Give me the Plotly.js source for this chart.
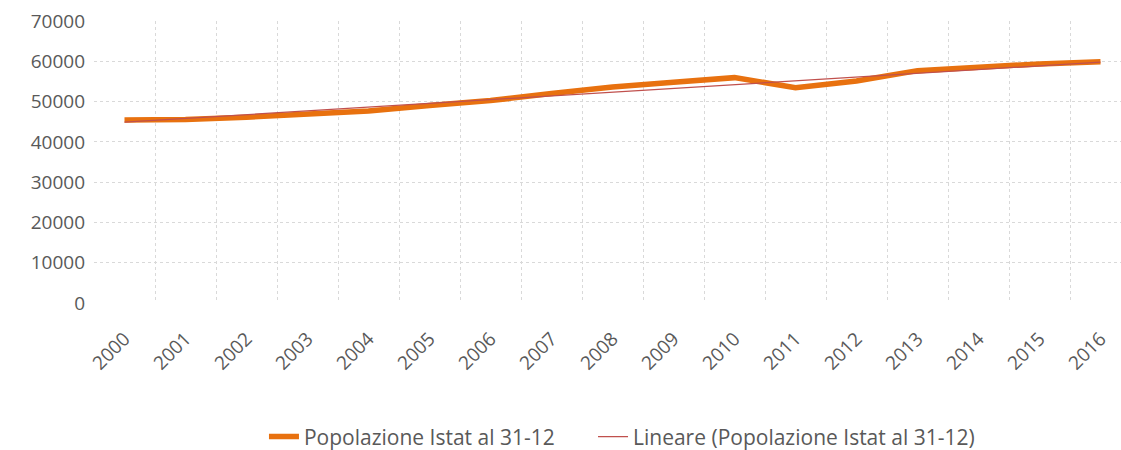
<!DOCTYPE html>
<html>
<head>
<meta charset="utf-8">
<script src="https://cdn.plot.ly/plotly-3.0.1.min.js"></script>
<style>
html,body{margin:0;padding:0;overflow:hidden;background:#fff;}
#chart{width:1121px;height:450px;}
</style>
</head>
<body>
<div id="chart"></div>
<script>
const years = ["2000","2001","2002","2003","2004","2005","2006","2007","2008","2009","2010","2011","2012","2013","2014","2015","2016"];
const popolazione = [45400,45530,46120,46860,47680,49050,50240,51980,53630,54800,55940,53460,55120,57680,58670,59340,59880];
const trendYears = ["2000","2016"];
const trendValues = [44900,59800];
const yTicks = [0,10000,20000,30000,40000,50000,60000,70000];

const textColor = "#595959";
const fontFamily = "'Open Sans', sans-serif";
const gridColor = "#d9d9d9";

const traces = [
  {
    x: years, y: popolazione, type: "scatter", mode: "lines",
    name: "Popolazione Istat al 31-12",
    line: {color: "#E8710F", width: 5.5},
    legend: "legend"
  },
  {
    x: trendYears, y: trendValues, type: "scatter", mode: "lines",
    name: "Lineare (Popolazione Istat al 31-12)",
    line: {color: "#C0504D", width: 1.3},
    legend: "legend2"
  }
];

const legendFont = {family: fontFamily, size: 21, color: textColor};

const layout = {
  width: 1121, height: 450,
  margin: {l: 94, r: 0, t: 21, b: 147, autoexpand: false},
  paper_bgcolor: "#fff", plot_bgcolor: "#fff",
  font: {family: fontFamily, size: 19, color: textColor},
  hovermode: false,
  showlegend: true,
  legend: {
    orientation: "h", x: 0.1655, xanchor: "left", y: -0.475, yanchor: "middle",
    font: legendFont, itemwidth: 30
  },
  legend2: {
    orientation: "h", x: 0.4859, xanchor: "left", y: -0.475, yanchor: "middle",
    font: legendFont, itemwidth: 30
  },
  xaxis: {
    type: "category",
    categoryorder: "array", categoryarray: years,
    range: [-0.5, 16.336],
    tickson: "boundaries",
    automargin: false,
    showgrid: true, gridcolor: gridColor, gridwidth: 1, griddash: "3px,3px",
    ticks: "", showline: false, zeroline: false,
    tickangle: -45,
    ticklabelstandoff: 20,
    tickfont: {family: fontFamily, size: 19, color: textColor}
  },
  yaxis: {
    range: [0, 70000],
    automargin: false,
    tickvals: yTicks, ticktext: yTicks.map(String),
    showgrid: true, gridcolor: gridColor, gridwidth: 1, griddash: "3px,3px",
    zeroline: false, showline: false, ticks: "",
    ticklabelstandoff: 8,
    tickfont: {family: fontFamily, size: 19, color: textColor}
  }
};

Plotly.newPlot("chart", traces, layout, {displayModeBar: false, staticPlot: true});
</script>
</body>
</html>
